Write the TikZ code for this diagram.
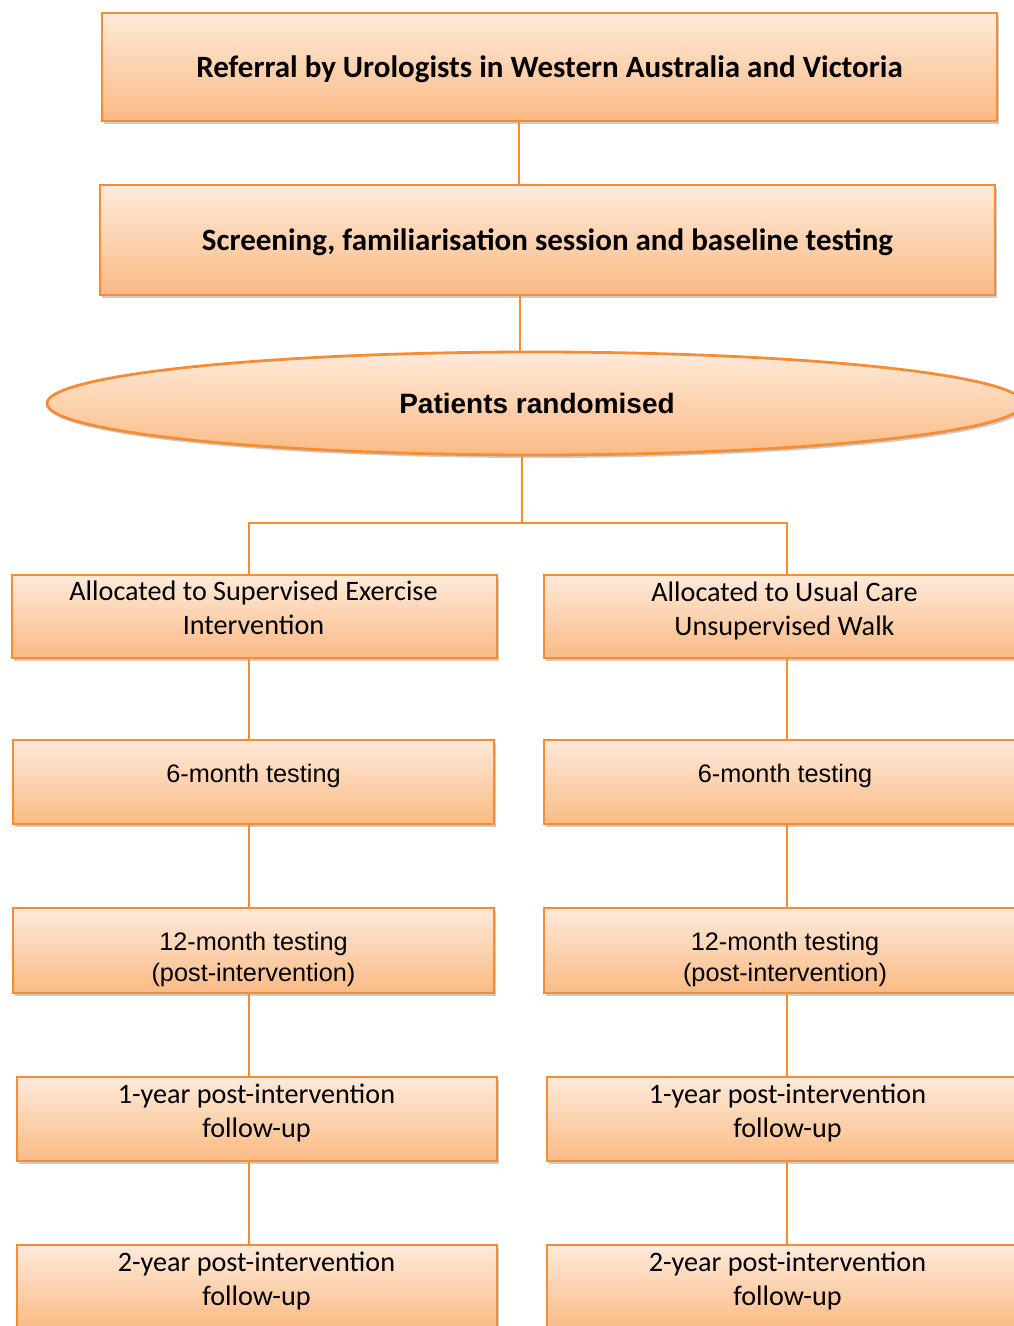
\documentclass[tikz,border=0pt]{standalone}
\usepackage{fontspec}
\setmainfont{Carlito}
\newfontfamily\arialf{Liberation Sans}
\usetikzlibrary{shapes.geometric,shadows}
\definecolor{peachtop}{RGB}{254,234,218}
\definecolor{peachbot}{RGB}{251,186,132}
\definecolor{orline}{RGB}{246,140,52}
\tikzset{
  boxbase/.style={draw=orline, line width=2.8pt, top color=peachtop, bottom color=peachbot,
    drop shadow={shadow xshift=2pt, shadow yshift=-3pt, opacity=0.2, fill=black},
    align=center, inner sep=0pt},
  plainbox/.style={boxbase, rectangle},
  ellbox/.style={boxbase, ellipse},
  maintext/.style={align=center, inner sep=0pt, font=\fontsize{31}{36}\selectfont\bfseries},
  caltext/.style={align=center, inner sep=0pt, font=\fontsize{28.2}{34}\selectfont},
  artext/.style={align=center, inner sep=0pt, font=\arialf\fontsize{25.3}{31}\selectfont},
  conn/.style={draw=orline, line width=1.8pt}
}
\begin{document}
\begin{tikzpicture}[x=1pt,y=-1pt]
\useasboundingbox (0,0) rectangle (1014,1326);
% coordinates for connector columns
\coordinate (L) at (249,0);
\coordinate (R) at (787,0);
\coordinate (J) at (522,523);
% top
\node[plainbox, minimum width=895pt, minimum height=108pt] (ref) at (549.5,67) {};
\node[plainbox, minimum width=895pt, minimum height=110pt] (scr) at (547.5,240) {};
\node[ellbox, minimum width=976pt, minimum height=103pt] (rand) at (535,403.5) {};
\node[maintext] (reft) at (549.5,69) {Referral by Urologists in Western Australia and Victoria};
\node[maintext] (scrt) at (547.5,242) {Screening, familiarisation session and baseline testing};
\node[font=\arialf\fontsize{28}{33}\selectfont\bfseries, inner sep=0pt] (randt) at (537,403) {Patients randomised};
% left column boxes
\node[plainbox, minimum width=485pt, minimum height=83pt] (a1) at (254.5,616.5) {};
\node[plainbox, minimum width=481pt, minimum height=84pt] (a2) at (253.5,782) {};
\node[plainbox, minimum width=481pt, minimum height=85pt] (a3) at (253.5,950.5) {};
\node[plainbox, minimum width=480pt, minimum height=84pt] (a4) at (257,1119) {};
\node[plainbox, minimum width=480pt, minimum height=84pt] (a5) at (257,1287) {};
% right column boxes
\node[plainbox, minimum width=482pt, minimum height=83pt] (b1) at (785,616.5) {};
\node[plainbox, minimum width=482pt, minimum height=84pt] (b2) at (785,782) {};
\node[plainbox, minimum width=482pt, minimum height=85pt] (b3) at (785,950.5) {};
\node[plainbox, minimum width=480pt, minimum height=84pt] (b4) at (787,1119) {};
\node[plainbox, minimum width=480pt, minimum height=84pt] (b5) at (787,1287) {};
% texts
\node[caltext] (a1t) at (253.5,608) {Allocated to Supervised Exercise\\Intervention};
\node[artext] (a2t) at (253.5,776) {6-month testing};
\node[artext] (a3t) at (253.5,959) {12-month testing\\(post-intervention)};
\node[caltext] (a4t) at (256.5,1113) {1-year post-intervention\\follow-up};
\node[caltext] (a5t) at (256.5,1281) {2-year post-intervention\\follow-up};
\node[caltext] (b1t) at (784.5,611) {Allocated to Usual Care\\Unsupervised Walk};
\node[artext] (b2t) at (785,776) {6-month testing};
\node[artext] (b3t) at (785,959) {12-month testing\\(post-intervention)};
\node[caltext] (b4t) at (787.5,1113) {1-year post-intervention\\follow-up};
\node[caltext] (b5t) at (787.5,1281) {2-year post-intervention\\follow-up};
% connectors
\draw[conn] (519,0 |- ref.south) -- (519,0 |- scr.north);
\draw[conn] (520,0 |- scr.south) -- (520,0 |- rand.north);
\draw[conn] (J |- rand.south) -- (J);
\draw[conn] (L |- a1.north) |- (J) -| (R |- b1.north);
\foreach \u/\v in {a1/a2,a2/a3,a3/a4,a4/a5}{
  \draw[conn] (L |- \u.south) -- (L |- \v.north);
}
\foreach \u/\v in {b1/b2,b2/b3,b3/b4,b4/b5}{
  \draw[conn] (R |- \u.south) -- (R |- \v.north);
}
\end{tikzpicture}
\end{document}
